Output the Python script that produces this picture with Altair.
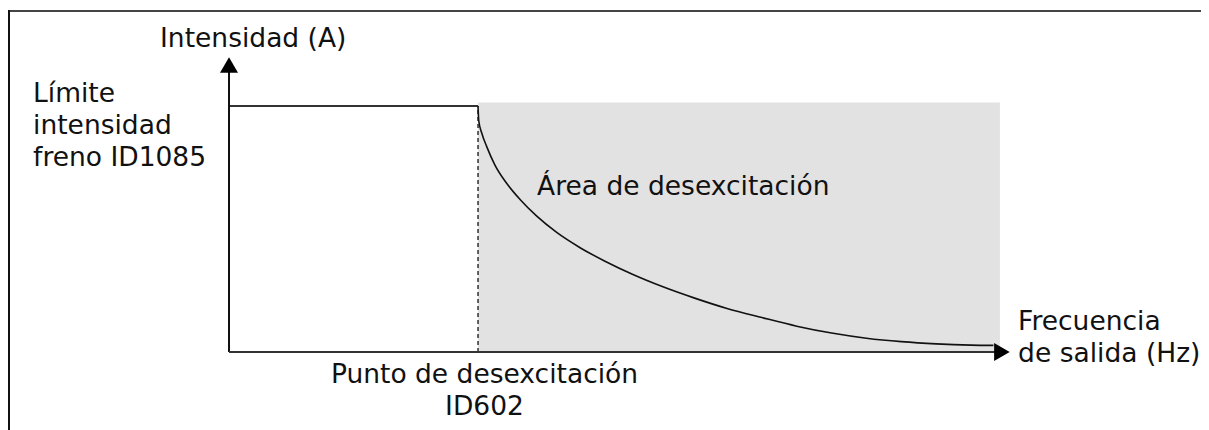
import altair as alt
import pandas as pd

# ---- data (diagram units: frequency 0..~310, intensity 0..~120, limit = 100) ----
fw_point = 100.0          # field weakening point (ID602)
current_limit = 100.0     # brake current limit (ID1085)
area_end_f = 309.6        # right end of shaded area
area_top_i = 101.4        # top of shaded area
x_axis_end = 310.4
y_axis_end = 116.7

curve_f = [100.0, 100.3, 101.5, 103.5, 106.8, 111.5, 116.9, 123.6, 131.6, 141.0,
           151.0, 162.0, 174.0, 187.0, 200.0, 214.0, 228.0, 242.0, 256.0, 270.0,
           284.0, 298.0, 307.0]
curve_i = [100.0, 94.0, 89.0, 83.5, 76.0, 68.6, 62.0, 55.2, 48.6, 42.4,
           36.9, 31.6, 26.6, 21.9, 17.7, 14.0, 10.5, 7.7, 5.6, 4.2,
           3.3, 2.8, 2.7]

label_text = ["Intensidad (A)", "Límite\nintensidad\nfreno ID1085", "Área de desexcitación",
              "Frecuencia\nde salida (Hz)"]
label_f = [-27.7, -78.7, 123.7, 316.9]
label_i = [124.0, 101.7, 63.8, 8.9]

center_text = ["Punto de desexcitación\nID602"]
center_f = [102.6]
center_i = [-12.6]

W, H = 1193, 422
xs = alt.Scale(domain=[-88.76, 390.36], nice=False, zero=False)
ys = alt.Scale(domain=[-31.71, 139.84], nice=False, zero=False)
FONT = "DejaVu Sans"

def X(field="f", **kw):
    return alt.X(f"{field}:Q", scale=xs, axis=None, **kw)

def Y(field="i", **kw):
    return alt.Y(f"{field}:Q", scale=ys, axis=None, **kw)

area_df = pd.DataFrame({"f": [fw_point], "f2": [area_end_f], "i": [0.0], "i2": [area_top_i]})
area = alt.Chart(area_df).mark_rect(color="#e2e2e2").encode(
    x=X("f"), x2="f2:Q", y=Y("i"), y2="i2:Q")

dash_df = pd.DataFrame({"f": [fw_point], "i": [0.0], "i2": [current_limit]})
dash = alt.Chart(dash_df).mark_rule(color="#000000", strokeWidth=1.2, strokeDash=[4, 3]).encode(
    x=X("f"), y=Y("i"), y2="i2:Q")

limit_df = pd.DataFrame({"f": [0.0], "f2": [fw_point], "i": [current_limit]})
limit = alt.Chart(limit_df).mark_rule(color="#333333", strokeWidth=2).encode(
    x=X("f"), x2="f2:Q", y=Y("i"))

curve_df = pd.DataFrame({"f": curve_f, "i": curve_i})
curve = alt.Chart(curve_df).mark_line(color="#111111", strokeWidth=1.6, interpolate="monotone").encode(
    x=X("f"), y=Y("i"))

yaxis_df = pd.DataFrame({"f": [0.0], "i": [0.0], "i2": [y_axis_end]})
yaxis = alt.Chart(yaxis_df).mark_rule(color="#111111", strokeWidth=2).encode(
    x=X("f"), y=Y("i"), y2="i2:Q")

xaxis_df = pd.DataFrame({"f": [0.0], "f2": [x_axis_end], "i": [0.0]})
xaxis = alt.Chart(xaxis_df).mark_rule(color="#333333", strokeWidth=2).encode(
    x=X("f"), x2="f2:Q", y=Y("i"))

up_df = pd.DataFrame({"f": [0.0], "i": [y_axis_end]})
arrow_up = alt.Chart(up_df).mark_point(shape="triangle-up", filled=True, size=324,
                                       color="#000000", opacity=1).encode(x=X("f"), y=Y("i"))
right_df = pd.DataFrame({"f": [x_axis_end], "i": [0.0]})
arrow_right = alt.Chart(right_df).mark_point(shape="triangle-right", filled=True, size=324,
                                             color="#000000", opacity=1).encode(x=X("f"), y=Y("i"))

lab_df = pd.DataFrame({"t": label_text, "f": label_f, "i": label_i})
labels = alt.Chart(lab_df).mark_text(align="left", baseline="alphabetic", font=FONT, fontSize=26.5,
                                     lineHeight=32, lineBreak="\n", color="#111111").encode(
    x=X("f"), y=Y("i"), text="t:N")

cen_df = pd.DataFrame({"t": center_text, "f": center_f, "i": center_i})
center_lab = alt.Chart(cen_df).mark_text(align="center", baseline="alphabetic", font=FONT, fontSize=26.5,
                                         lineHeight=32, lineBreak="\n", color="#111111").encode(
    x=X("f"), y=Y("i"), text="t:N")

frame_top = alt.Chart(pd.DataFrame({"k": [0]})).mark_rule(color="#444444", strokeWidth=2).encode(
    x=alt.value(1), x2=alt.value(W), y=alt.value(3))
frame_left = alt.Chart(pd.DataFrame({"k": [0]})).mark_rule(color="#111111", strokeWidth=2).encode(
    x=alt.value(1), y=alt.value(2), y2=alt.value(H))

chart = alt.layer(area, dash, limit, curve, yaxis, xaxis, arrow_up, arrow_right,
                  labels, center_lab, frame_top, frame_left).properties(
    width=W, height=H, padding=0, autosize=alt.AutoSizeParams(type="none"),
    background="white"
).configure_view(stroke=None)

chart.save("out.html", embed_options={"renderer": "svg", "actions": False})
